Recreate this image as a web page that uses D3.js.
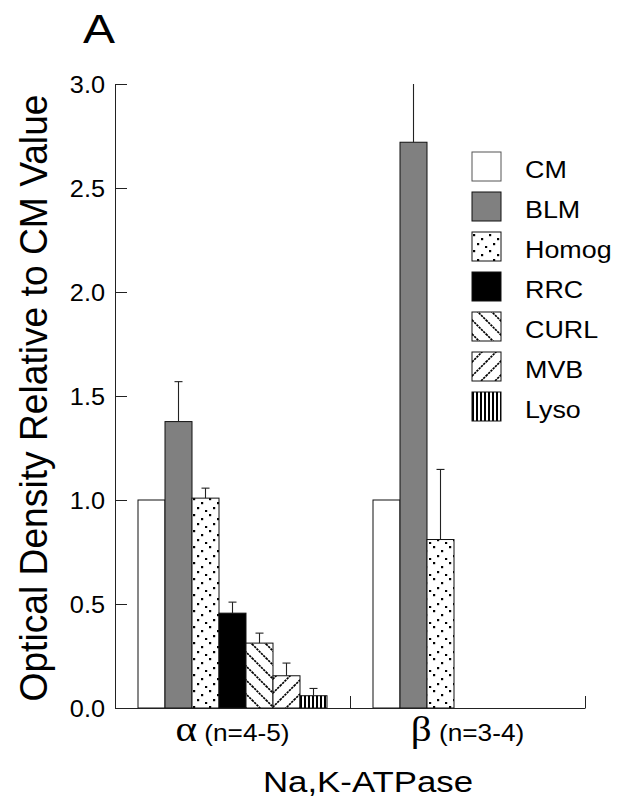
<!DOCTYPE html>
<html>
<head>
<meta charset="utf-8">
<script src="https://cdn.jsdelivr.net/npm/d3@7"></script>
<style>
  body { margin: 0; background: #fff; }
  svg  { display: block; }
  text { font-family: "Liberation Sans", Arial, sans-serif; fill: #000; }
</style>
</head>
<body>
<div id="chart"></div>
<script>
// ── Data ────────────────────────────────────────────────────
const groups      = ["α", "β"];
const groupNotes  = ["(n=4-5)", "(n=3-4)"];
const series      = ["CM", "BLM", "Homog", "RRC", "CURL", "MVB", "Lyso"];
const alphaMeans  = [1.0, 1.377, 1.009, 0.456, 0.312, 0.155, 0.059];
const alphaErrors = [0, 0.192, 0.048, 0.053, 0.048, 0.061, 0.035];
const betaMeans   = [1.0, 2.72, 0.81, 0, 0, 0, 0];
const betaErrors  = [0, 0.30, 0.337, 0, 0, 0, 0];
const yTicks      = [0, 0.5, 1.0, 1.5, 2.0, 2.5, 3.0];

const means  = [alphaMeans, betaMeans];
const errors = [alphaErrors, betaErrors];

// ── Layout ──────────────────────────────────────────────────
const W = 625, H = 808;
const plot = { left: 115, right: 585, top: 84, bottom: 708 };

const svg = d3.select("#chart").append("svg")
  .attr("width", W).attr("height", H);

// ── Fills ───────────────────────────────────────────────────
const defs = svg.append("defs");

const homog = defs.append("pattern").attr("id", "p-homog")
  .attr("patternUnits", "userSpaceOnUse").attr("width", 16).attr("height", 16);
homog.append("rect").attr("width", 16).attr("height", 16).attr("fill", "#fff");
[[1, 2], [9, 6], [5, 11], [13, 14]].forEach(([px, py]) =>
  homog.append("rect").attr("x", px).attr("y", py).attr("width", 2.2).attr("height", 2.2).attr("fill", "#000"));

const curl = defs.append("pattern").attr("id", "p-curl")
  .attr("patternUnits", "userSpaceOnUse").attr("width", 14).attr("height", 14);
curl.append("rect").attr("width", 14).attr("height", 14).attr("fill", "#fff");
curl.append("path").attr("d", "M0,0L14,14M-1,13L1,15M13,-1L15,1")
  .attr("stroke", "#000").attr("stroke-width", 1.7).attr("stroke-dasharray", "2.4,0.8");

const mvb = defs.append("pattern").attr("id", "p-mvb")
  .attr("patternUnits", "userSpaceOnUse").attr("width", 14).attr("height", 14);
mvb.append("rect").attr("width", 14).attr("height", 14).attr("fill", "#fff");
mvb.append("path").attr("d", "M0,14L14,0M-1,1L1,-1M13,15L15,13")
  .attr("stroke", "#000").attr("stroke-width", 1.7).attr("stroke-dasharray", "2.4,0.8");

const lyso = defs.append("pattern").attr("id", "p-lyso")
  .attr("patternUnits", "userSpaceOnUse").attr("width", 4).attr("height", 4);
lyso.append("rect").attr("width", 4).attr("height", 4).attr("fill", "#fff");
lyso.append("rect").attr("width", 2).attr("height", 4).attr("fill", "#000");

const fills = {
  CM: "#fff", BLM: "#808080", Homog: "url(#p-homog)", RRC: "#000",
  CURL: "url(#p-curl)", MVB: "url(#p-mvb)", Lyso: "url(#p-lyso)"
};

// ── Scales ──────────────────────────────────────────────────
const y = d3.scaleLinear().domain([0, 3]).range([plot.bottom, plot.top]);

const x0 = d3.scaleBand().domain(groups)
  .range([plot.left, plot.right]).padding(0);

const x1 = d3.scaleBand().domain(series)
  .range([0, x0.bandwidth()]).paddingInner(0).paddingOuter(0.852);

const xEdge = d3.scaleLinear().domain([0, groups.length])
  .range([plot.left, plot.right]);

// ── Bars ────────────────────────────────────────────────────
const rows = [];
groups.forEach((g, gi) => series.forEach((s, si) =>
  rows.push({ g, s, v: means[gi][si], e: errors[gi][si] })));

svg.append("g").selectAll("rect")
  .data(rows)
  .join("rect")
    .attr("x", d => x0(d.g) + x1(d.s))
    .attr("y", d => y(d.v))
    .attr("width", x1.bandwidth())
    .attr("height", d => y(0) - y(d.v))
    .attr("fill", d => fills[d.s])
    .attr("stroke", "#111")
    .attr("stroke-width", 1);

// ── Error bars ──────────────────────────────────────────────
const eb = svg.append("g").attr("stroke", "#222").attr("stroke-width", 1.1);
rows.filter(d => d.e > 0).forEach(d => {
  const cx = x0(d.g) + x1(d.s) + x1.bandwidth() / 2;
  const top = Math.min(d.v + d.e, 3);
  eb.append("line").attr("x1", cx).attr("x2", cx)
    .attr("y1", y(d.v)).attr("y2", y(top));
  if (d.v + d.e < 3) {
    eb.append("line").attr("x1", cx - 4).attr("x2", cx + 4)
      .attr("y1", y(top)).attr("y2", y(top));
  }
});

// ── Axes ────────────────────────────────────────────────────
const TSX = 1.1;
const yAxis = svg.append("g")
  .attr("transform", `translate(${plot.left},0)`)
  .call(d3.axisLeft(y).tickValues(yTicks).tickFormat(d3.format(".1f"))
    .tickSize(-12).tickSizeOuter(0).tickPadding(9));
yAxis.selectAll("line, path").attr("stroke", "#222");
yAxis.selectAll("text")
  .attr("font-size", 23)
  .attr("font-family", "Liberation Sans, Arial, sans-serif")
  .attr("x", -10 / TSX)
  .attr("dy", "0.36em")
  .attr("transform", `scale(${TSX},1)`);

const xAxis = svg.append("g")
  .attr("transform", `translate(0,${plot.bottom})`)
  .call(d3.axisBottom(xEdge).tickValues([1, 2]).tickFormat("")
    .tickSize(-12).tickSizeOuter(0));
xAxis.selectAll("line, path").attr("stroke", "#222");

// ── Titles ──────────────────────────────────────────────────
svg.append("text")
  .attr("transform", "translate(83,43) scale(1.2,1)")
  .attr("font-size", 40)
  .text("A");

// group labels
groups.forEach((g, i) => {
  const t = svg.append("text")
    .attr("transform", `translate(${x0(g) + x0.bandwidth() / 2},741) scale(1.14,1)`)
    .attr("text-anchor", "middle");
  t.append("tspan").attr("font-family", "Liberation Serif, Times New Roman, serif")
    .attr("font-size", 36).text(g);
  t.append("tspan").attr("font-size", 23).text(" " + groupNotes[i]);
});

// x title
svg.append("text")
  .attr("x", 368).attr("y", 792)
  .attr("font-size", 30).attr("text-anchor", "middle")
  .attr("textLength", 210).attr("lengthAdjust", "spacingAndGlyphs")
  .text("Na,K-ATPase");

// y title
svg.append("text")
  .attr("transform", "translate(47,398) rotate(-90)")
  .attr("font-size", 39).attr("text-anchor", "middle")
  .attr("textLength", 607).attr("lengthAdjust", "spacingAndGlyphs")
  .text("Optical Density Relative to CM Value");

// ── Legend ──────────────────────────────────────────────────
const legend = svg.append("g").attr("transform", "translate(472,152)");
series.forEach((s, i) => {
  legend.append("rect")
    .attr("x", 0).attr("y", i * 40)
    .attr("width", 29).attr("height", 29)
    .attr("fill", fills[s])
    .attr("stroke", s === "CM" ? "#555" : "#111")
    .attr("stroke-width", 1);
  legend.append("text")
    .attr("transform", `translate(53,${i * 40 + 26}) scale(1.12,1)`)
    .attr("font-size", 24)
    .text(s);
});
</script>
</body>
</html>
